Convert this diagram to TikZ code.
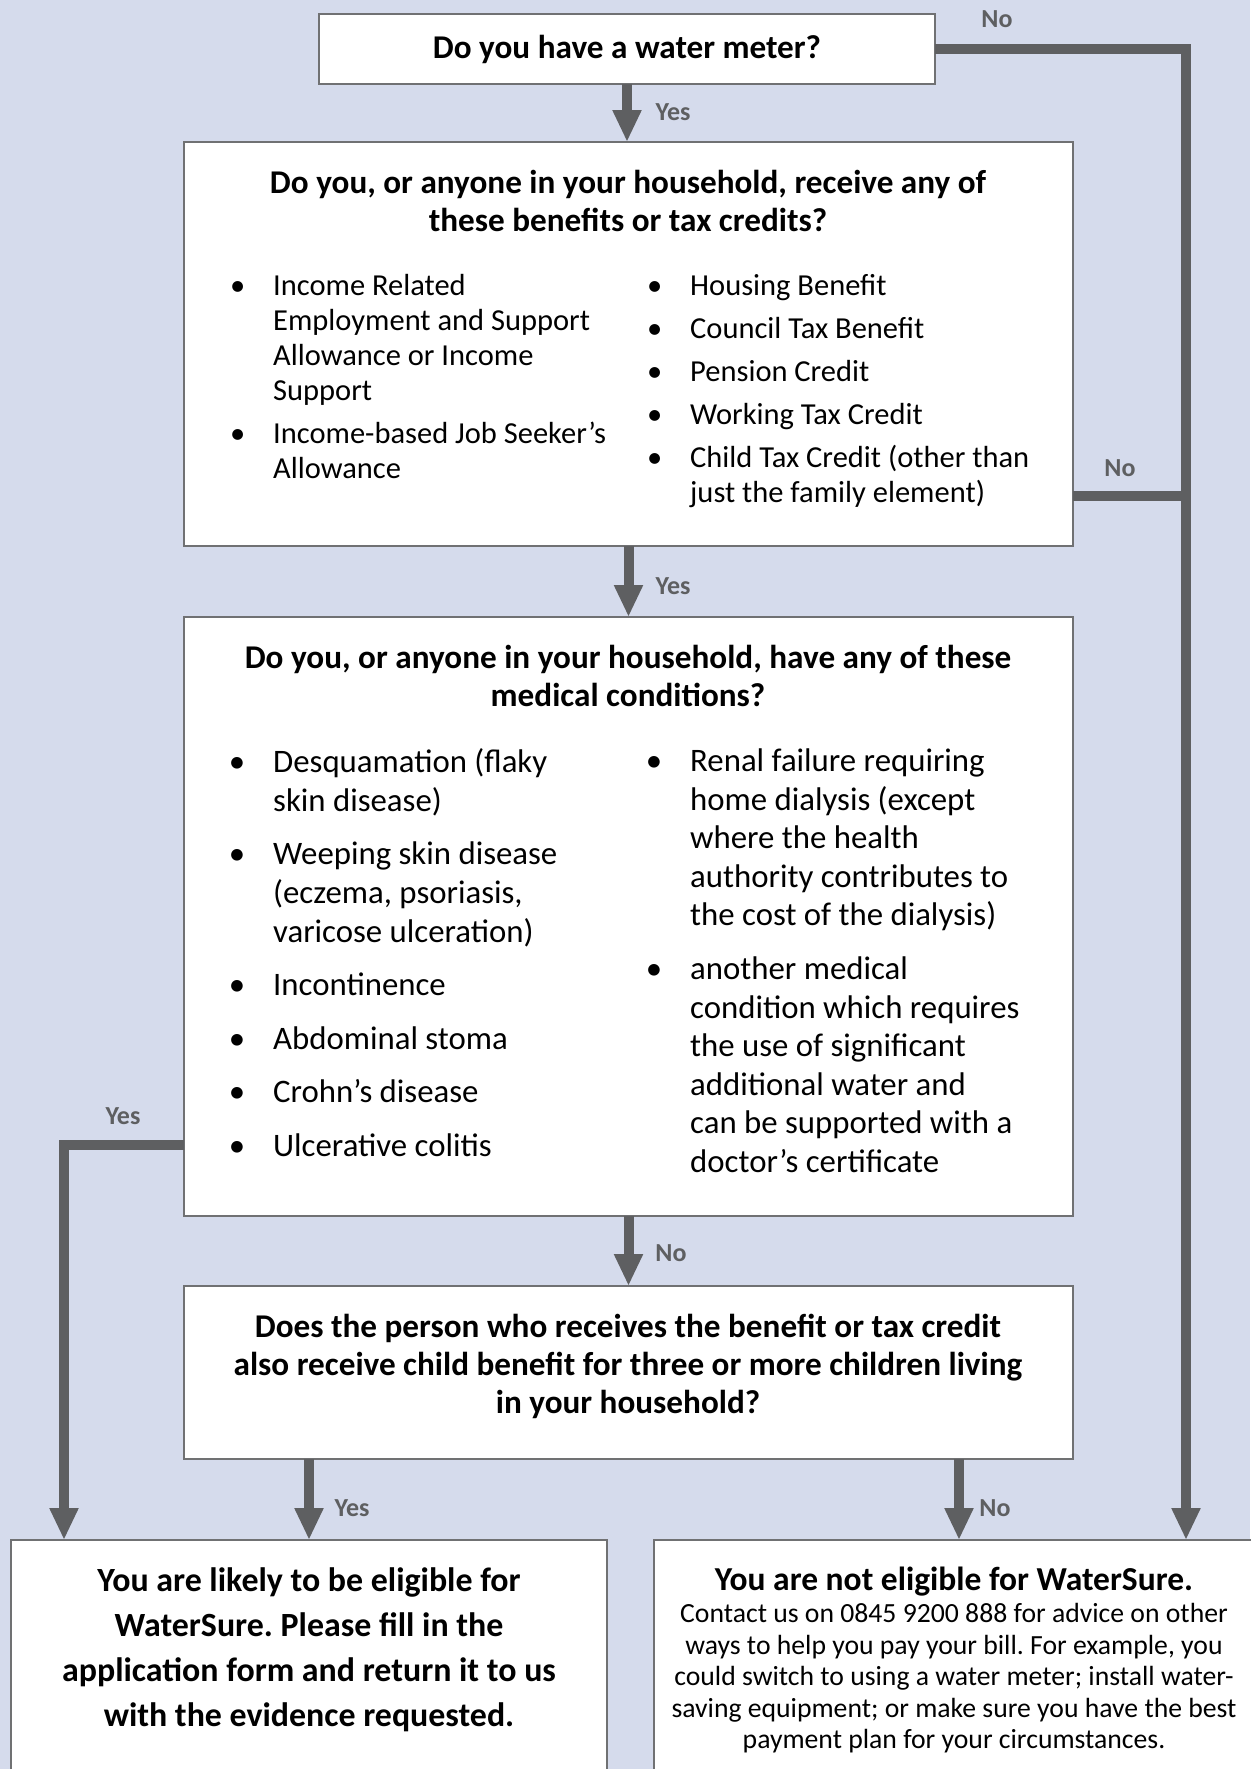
\documentclass[tikz,border=0pt]{standalone}
\usepackage{fontspec}
\setmainfont{Carlito}
\frenchspacing
\usetikzlibrary{shapes,arrows.meta,positioning}
\definecolor{bgblue}{HTML}{D5DBEC}
\definecolor{flowgray}{HTML}{5E5F61}
\definecolor{edgegray}{HTML}{707173}
\tikzstyle{block} = [rectangle, draw=edgegray, line width=2.5pt, fill=white,
anchor=north west, inner sep=0pt, outer sep=0pt]
\tikzstyle{line} = [draw=flowgray, line width=10pt]
\tikzstyle{arrow} = [line, -{Triangle[width=27pt,length=32pt]}]
\tikzstyle{answer} = [text=flowgray, inner sep=0pt, font=\fontsize{26}{30}\selectfont\bfseries]
\tikzstyle{question} = [align=center, inner sep=0pt, anchor=north, font=\fontsize{33.2}{38.3}\selectfont\bfseries]
\tikzstyle{listtext} = [align=left, inner sep=0pt, anchor=north west]
\newcommand{\itm}{\llap{\textbullet\hspace{28pt}}}

\begin{document}
\begin{tikzpicture}[x=1pt, y=-1pt]
\useasboundingbox (0,0) rectangle (1250,1769);
\fill [bgblue] (0,0) rectangle (1250,1769);

 \node [block, question, anchor=north west, minimum width=616pt, minimum height=70pt] (meter) at (319,14) {Do you have a water meter?};
 \node [block, minimum width=889pt, minimum height=404pt] (benefit) at (184,142) {};
 \node [block, minimum width=889pt, minimum height=599pt] (medical) at (184,617) {};
 \node [block, minimum width=889pt, minimum height=173pt] (child) at (184,1286) {};
 \node [block, minimum width=596pt, minimum height=260pt] (yesbox) at (11,1540) {};
 \node [block, minimum width=610pt, minimum height=260pt] (nobox) at (654,1540) {};

 \node [question] (benefitq) at (628,170) {Do you, or anyone in your household, receive any of\\these benefits or tax credits?};
 \node [listtext, font=\fontsize{30.5}{35}\selectfont] (benefitl) at (273,274.5) {\itm Income Related\\Employment and Support\\Allowance or Income\\Support\\[8pt]\itm Income-based Job Seeker’s\\Allowance};
 \node [listtext, font=\fontsize{30.5}{35}\selectfont] (benefitr) at (690,274.5) {\itm Housing Benefit\\[8pt]\itm Council Tax Benefit\\[8pt]\itm Pension Credit\\[8pt]\itm Working Tax Credit\\[8pt]\itm Child Tax Credit (other than\\just the family element)};

 \node [question] (medicalq) at (628,644.5) {Do you, or anyone in your household, have any of these\\medical conditions?};
 \node [listtext, font=\fontsize{32.8}{38.6}\selectfont] (medicall) at (273,748.5) {\itm Desquamation (flaky\\skin disease)\\[15pt]\itm Weeping skin disease\\(eczema, psoriasis,\\varicose ulceration)\\[15pt]\itm Incontinence\\[15pt]\itm Abdominal stoma\\[15pt]\itm Crohn’s disease\\[15pt]\itm Ulcerative colitis};
 \node [listtext, font=\fontsize{32.8}{38.6}\selectfont] (medicalr) at (690,748.5) {\itm Renal failure requiring\\home dialysis (except\\where the health\\authority contributes to\\the cost of the dialysis)\\[15pt]\itm another medical\\condition which requires\\the use of significant\\additional water and\\can be supported with a\\doctor’s certificate};

 \node [question] (childq) at (628,1313.5) {Does the person who receives the benefit or tax credit\\also receive child benefit for three or more children living\\in your household?};

 \node [question, font=\fontsize{33.9}{45}\selectfont\bfseries] (yestext) at (309,1567) {You are likely to be eligible for\\WaterSure. Please fill in the\\application form and return it to us\\with the evidence requested.};
 \node [question, font=\fontsize{33.5}{37}\selectfont\bfseries] (notitle) at (954,1567) {You are not eligible for WaterSure.};
 \node [question, font=\fontsize{27.7}{31.6}\selectfont] (notext) at (954,1603) {Contact us on 0845 9200 888 for advice on other\\ways to help you pay your bill. For example, you\\could switch to using a water meter; install water-\\saving equipment; or make sure you have the best\\payment plan for your circumstances.};

 \coordinate (rightrail) at (1186,0);
 \coordinate (leftrail) at (64,0);
 \path [arrow] (meter.south) -- (meter.south |- benefit.north);
 \path [arrow] (benefit.south) -- (benefit.south |- medical.north);
 \path [arrow] (medical.south) -- (medical.south |- child.north);
 \path [arrow] (yesbox.north |- child.south) -- (yesbox.north);
 \path [arrow] (nobox.north |- child.south) -- (nobox.north);
 \path [arrow] (meter.east) -| (rightrail |- nobox.north);
 \path [line] (benefit.east |- 0,496) -- (rightrail |- 0,496);
 \path [arrow] (medical.west |- 0,1145) -| (leftrail |- yesbox.north);

 \node [answer] (no1) at (997,19) {No};
 \node [answer] (yes1) at (673,112) {Yes};
 \node [answer] (no2) at (1120,468) {No};
 \node [answer] (yes2) at (673,586) {Yes};
 \node [answer] (yes3) at (123,1116) {Yes};
 \node [answer] (no3) at (671,1253) {No};
 \node [answer] (yes4) at (352,1508) {Yes};
 \node [answer] (no4) at (995,1508) {No};
\end{tikzpicture}
\end{document}
